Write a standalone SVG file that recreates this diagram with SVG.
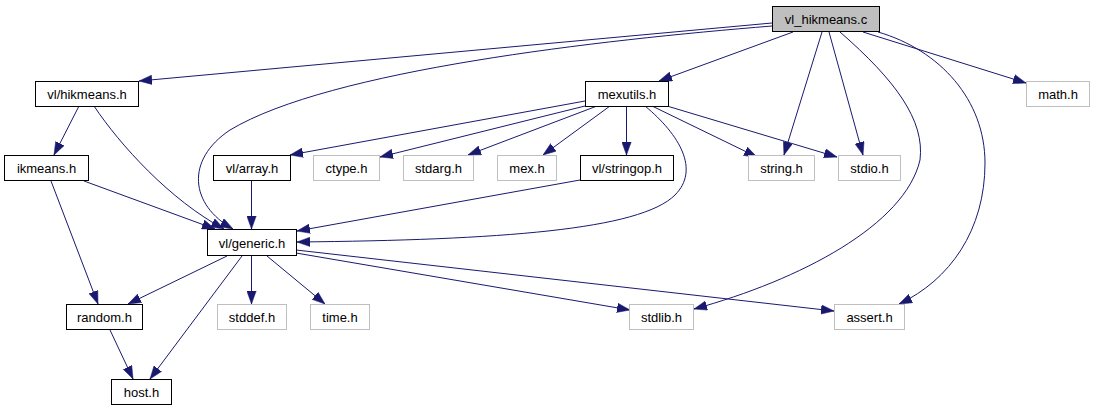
<svg xmlns="http://www.w3.org/2000/svg" width="1093" height="411" viewBox="0 0 1093 411">
<style>
.n rect{fill:#ffffff;stroke:#000000;stroke-width:1}
.n.g rect{stroke:#bfbfbf}
.n.root rect{fill:#bfbfbf}
.n text{font-family:"Liberation Sans",Arial,Helvetica,sans-serif;font-size:13px;fill:#000000;text-anchor:middle}
#edges path{fill:none;stroke:#191970;stroke-width:1;marker-end:url(#ah)}
</style>
<defs>
<marker id="ah" markerUnits="userSpaceOnUse" markerWidth="13" markerHeight="10" viewBox="0 0 13 9.4" refX="13" refY="4.7" orient="auto">
<path d="M0,0 L13,4.7 L0,9.4 z" fill="#191970" stroke="#191970" stroke-width="0.5"/>
</marker>
</defs>
<rect width="1093" height="411" fill="#ffffff"/>
<g id="edges">
<path d="M772,23 L139,81"/>
<path d="M772,26 C600,40 330,70 230,130 C185,160 190,205 233,229"/>
<path d="M793,32 L659,81"/>
<path d="M822,32 L784,155"/>
<path d="M829,32 L863,155"/>
<path d="M840,32 C895,80 925,120 920,160 C905,225 800,280 694,309"/>
<path d="M878,32 C940,50 985,100 985,163 C985,230 950,280 899,304"/>
<path d="M863,32 L1026,83"/>
<path d="M79,106 L54,155"/>
<path d="M94,106 C120,145 170,200 224,229"/>
<path d="M84,181 L215,229"/>
<path d="M51,181 L98,304"/>
<path d="M251.5,181 L251.5,229"/>
<path d="M585,101 L290,155"/>
<path d="M585,106 L380,157"/>
<path d="M597,106 L468,155"/>
<path d="M610,106 L543,155"/>
<path d="M626.5,106 L626.5,155"/>
<path d="M652,106 L757,157"/>
<path d="M667,106 L837,157"/>
<path d="M645,106 C680,135 700,170 675,195 C640,230 500,240 297,242"/>
<path d="M580,180 L297,231"/>
<path d="M227,256 L128,304"/>
<path d="M242,256 L150,379"/>
<path d="M251.5,256 L251.5,304"/>
<path d="M267,256 L325,304"/>
<path d="M296,253 L630,310"/>
<path d="M296,250 L834,311"/>
<path d="M110,330 L133,379"/>
</g>
<g id="node-vl_hikmeans_c" class="n root"><rect x="772.5" y="6.5" width="107" height="25"/><text x="826" y="24">vl_hikmeans.c</text></g>
<g id="node-vl_hikmeans_h" class="n"><rect x="35.5" y="81.5" width="103" height="25"/><text x="87" y="99">vl/hikmeans.h</text></g>
<g id="node-mexutils_h" class="n"><rect x="585.5" y="81.5" width="83" height="25"/><text x="627" y="99">mexutils.h</text></g>
<g id="node-math_h" class="n g"><rect x="1026.5" y="81.5" width="63" height="25"/><text x="1058" y="99">math.h</text></g>
<g id="node-ikmeans_h" class="n"><rect x="4.5" y="155.5" width="84" height="25"/><text x="46.5" y="173">ikmeans.h</text></g>
<g id="node-vl_array_h" class="n"><rect x="213.5" y="155.5" width="77" height="25"/><text x="252" y="173">vl/array.h</text></g>
<g id="node-ctype_h" class="n g"><rect x="313.5" y="155.5" width="66" height="25"/><text x="346.5" y="173">ctype.h</text></g>
<g id="node-stdarg_h" class="n g"><rect x="403.5" y="155.5" width="70" height="25"/><text x="438.5" y="173">stdarg.h</text></g>
<g id="node-mex_h" class="n g"><rect x="497.5" y="155.5" width="59" height="25"/><text x="527" y="173">mex.h</text></g>
<g id="node-vl_stringop_h" class="n"><rect x="580.5" y="155.5" width="93" height="25"/><text x="627" y="173">vl/stringop.h</text></g>
<g id="node-string_h" class="n g"><rect x="748.5" y="155.5" width="66" height="25"/><text x="781.5" y="173">string.h</text></g>
<g id="node-stdio_h" class="n g"><rect x="838.5" y="155.5" width="62" height="25"/><text x="869.5" y="173">stdio.h</text></g>
<g id="node-vl_generic_h" class="n"><rect x="207.5" y="229.5" width="89" height="26"/><text x="252" y="247.5">vl/generic.h</text></g>
<g id="node-random_h" class="n"><rect x="66.5" y="304.5" width="76" height="25"/><text x="104.5" y="322">random.h</text></g>
<g id="node-stddef_h" class="n g"><rect x="217.5" y="304.5" width="69" height="25"/><text x="252" y="322">stddef.h</text></g>
<g id="node-time_h" class="n g"><rect x="310.5" y="304.5" width="59" height="25"/><text x="340" y="322">time.h</text></g>
<g id="node-stdlib_h" class="n g"><rect x="629.5" y="304.5" width="64" height="25"/><text x="661.5" y="322">stdlib.h</text></g>
<g id="node-assert_h" class="n g"><rect x="834.5" y="304.5" width="70" height="25"/><text x="869.5" y="322">assert.h</text></g>
<g id="node-host_h" class="n"><rect x="111.5" y="379.5" width="60" height="25"/><text x="141.5" y="397">host.h</text></g>
</svg>
